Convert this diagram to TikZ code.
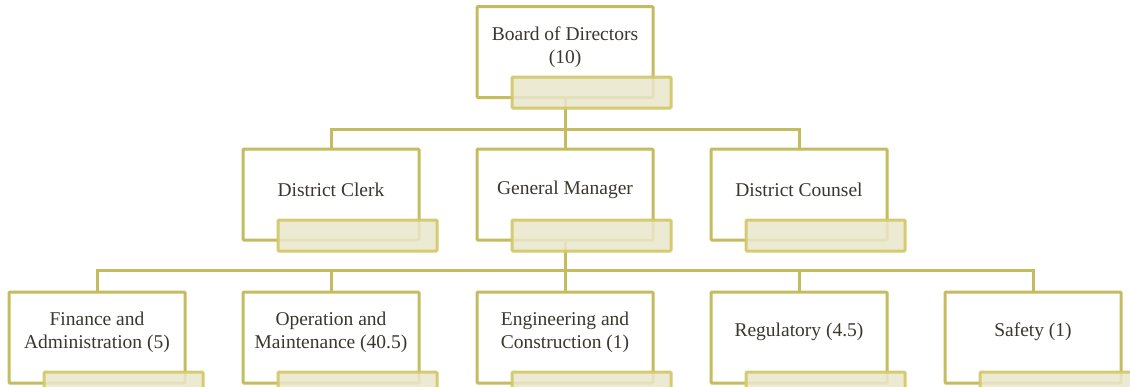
\documentclass[tikz,border=0pt]{standalone}
\usepackage{fontspec}
\setmainfont{Liberation Serif}
\usetikzlibrary{backgrounds}
\definecolor{lineol}{HTML}{C4BC5E}
\definecolor{tabedge}{HTML}{D3C96C}
\definecolor{tabfill}{HTML}{EBE7CD}
\definecolor{txt}{HTML}{3A382E}
\begin{document}
\begin{tikzpicture}[x=1pt,y=-1pt,
  unit/.style={draw=lineol, line width=3pt, fill=white, rounded corners=1pt,
    minimum width=176pt, minimum height=91pt, inner sep=0pt},
  tab/.style={draw=tabedge, line width=3pt, fill=tabfill, fill opacity=0.85,
    draw opacity=0.95, rounded corners=1pt,
    minimum width=159pt, minimum height=31pt, inner sep=0pt},
  caption/.style={text=txt, font=\fontsize{19.5}{23}\selectfont, align=center, inner sep=0pt},
  link/.style={draw=lineol, line width=3pt}]
  \useasboundingbox (0,0) rectangle (1130,386);

  % top level
  \node[unit] (board) at (565,52) {};
  \node[tab] (boardtab) at (591.5,92.5) {};
  \node[caption] (boardtxt) at (565,47) {Board of Directors\\(10)};

  % second level
  \node[unit] (clerk) at (331,194.5) {};
  \node[tab] (clerktab) at (357.5,235.5) {};
  \node[caption] (clerktxt) at (331,189.5) {District Clerk};

  \node[unit] (gm) at (565,194.5) {};
  \node[tab] (gmtab) at (591.5,235.5) {};
  \node[caption] (gmtxt) at (565,189.5) {General Manager};

  \node[unit] (counsel) at (799,194.5) {};
  \node[tab] (counseltab) at (825.5,235.5) {};
  \node[caption] (counseltxt) at (799,189.5) {District Counsel};

  % departments
  \node[unit] (fin) at (97,337.5) {};
  \node[tab] (fintab) at (123.5,387.5) {};
  \node[caption] (fintxt) at (97,332) {Finance and\\Administration (5)};

  \node[unit] (ops) at (331,337.5) {};
  \node[tab] (opstab) at (357.5,387.5) {};
  \node[caption] (opstxt) at (331,332) {Operation and\\Maintenance (40.5)};

  \node[unit] (eng) at (565,337.5) {};
  \node[tab] (engtab) at (591.5,387.5) {};
  \node[caption] (engtxt) at (565,332) {Engineering and\\Construction (1)};

  \node[unit] (reg) at (799,337.5) {};
  \node[tab] (regtab) at (825.5,387.5) {};
  \node[caption] (regtxt) at (799,332) {Regulatory (4.5)};

  \node[unit] (safe) at (1033,337.5) {};
  \node[tab] (safetab) at (1059.5,387.5) {};
  \node[caption] (safetxt) at (1033,332) {Safety (1)};

  % connectors, behind the boxes
  \coordinate (j1) at (565,129);
  \coordinate (j2) at (565,270);
  \begin{pgfonlayer}{background}
    \fill[white] (0,0) rectangle (1130,386);
    \draw[link] (board.south) -- (j1);
    \draw[link] (clerk.north) |- (j1) -| (counsel.north);
    \draw[link] (j1) -- (gm.north);
    \draw[link] (gm.south) -- (j2);
    \draw[link] (fin.north) |- (j2) -| (safe.north);
    \draw[link] (ops.north) |- (j2);
    \draw[link] (eng.north) -- (j2);
    \draw[link] (reg.north) |- (j2);
  \end{pgfonlayer}
\end{tikzpicture}
\end{document}
